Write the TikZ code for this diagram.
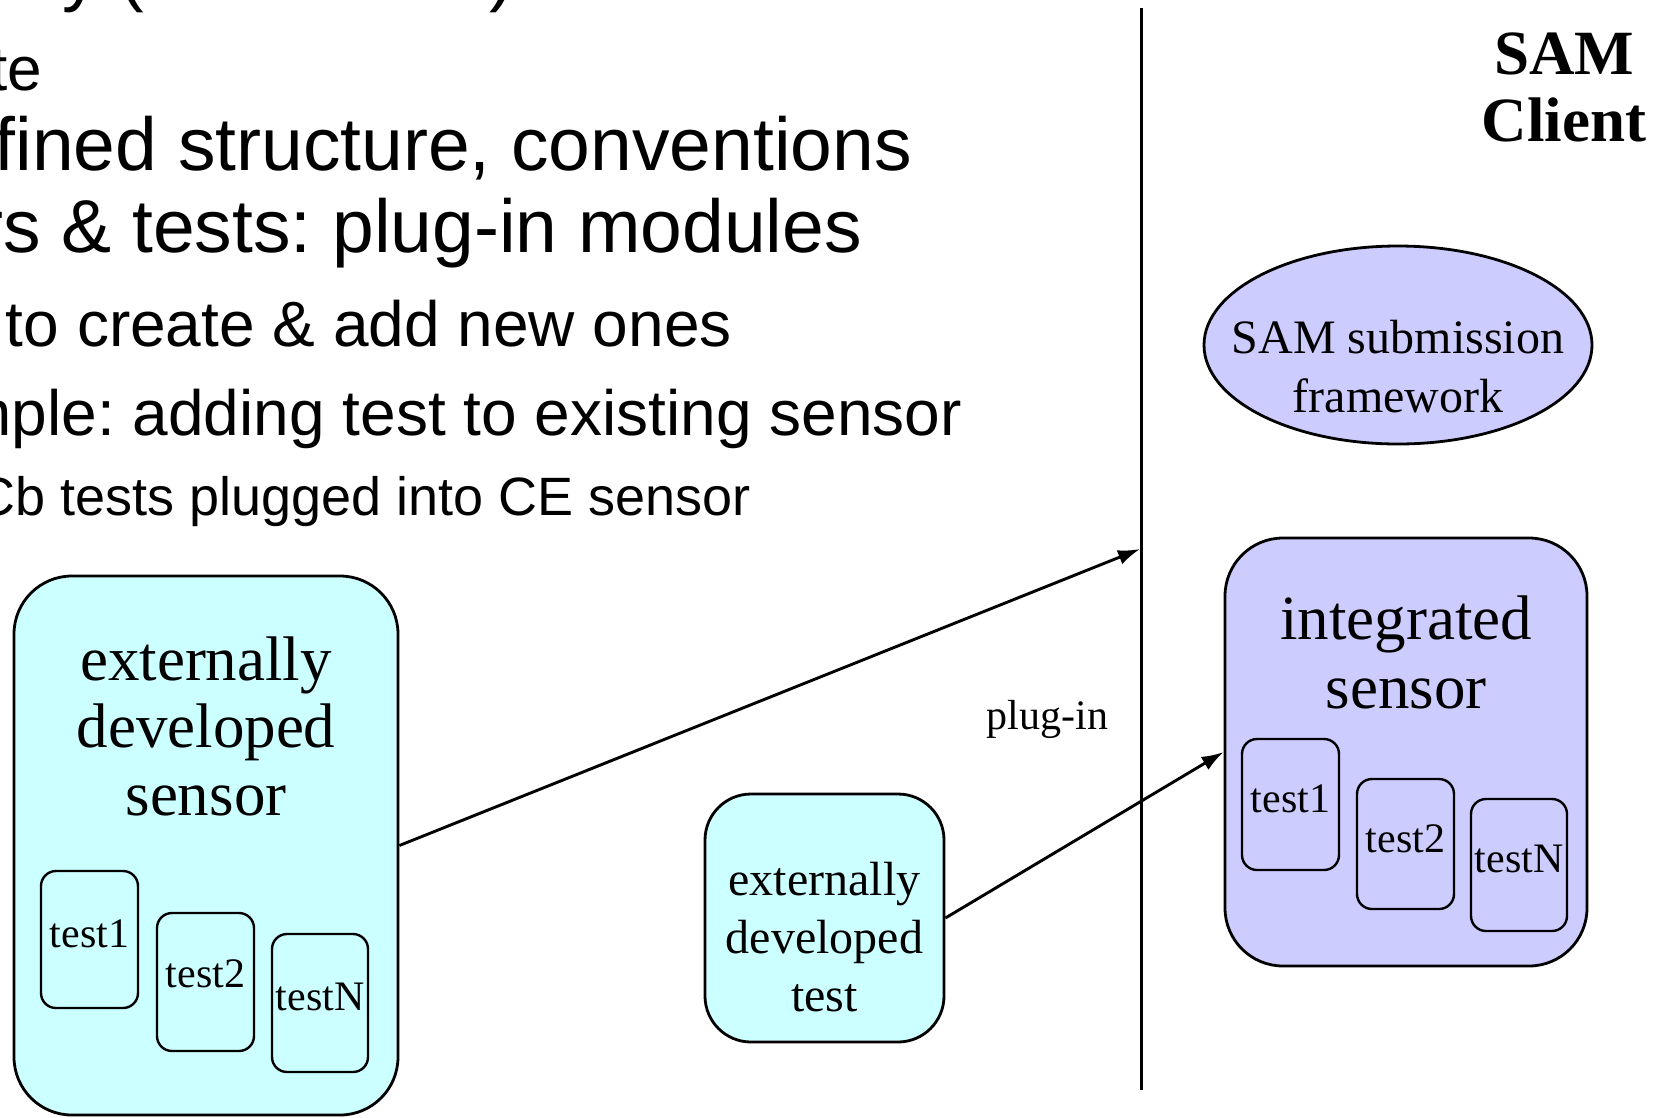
\documentclass[tikz,border=0pt]{standalone}
\usepackage{fontspec}
\setmainfont{Liberation Serif}
\newfontfamily\arialf{Liberation Sans}
\usetikzlibrary{arrows.meta,shapes.geometric}
\definecolor{cyanfill}{HTML}{CCFFFF}
\definecolor{lavfill}{HTML}{CCCCFF}
\frenchspacing
\tikzset{
  bigbox/.style={draw, line width=2.8pt, rounded corners=58pt, inner sep=0pt},
  midbox/.style={draw, line width=2.8pt, rounded corners=46pt, inner sep=0pt},
  testbox/.style={draw, line width=2.4pt, rounded corners=15pt, inner sep=0pt, minimum width=97pt},
  lbl/.style={inner sep=0pt, anchor=base},
  slide/.style={inner sep=0pt, anchor=base east, font=\arialf},
  arr/.style={line width=2.9pt, -{Latex[length=22pt,width=15pt]}},
}
\begin{document}
\begin{tikzpicture}[x=1pt,y=-1pt]
\useasboundingbox (0,0) rectangle (1664,1117);
\clip (0,0) rectangle (1664,1117);
\fill[white] (0,0) rectangle (1664,1117);

% slide text (cut off on the left)
\node[inner sep=0pt, anchor=base west, font=\arialf\fontsize{74}{80}\selectfont] (t0a) at (62,-3) {y (};
\node[inner sep=0pt, anchor=base west, font=\arialf\fontsize{74}{80}\selectfont] (t0b) at (489,-3) {)};
\node[slide, font=\arialf\fontsize{62}{70}\selectfont] (t1) at (42,90) {te};
\node[slide, font=\arialf\fontsize{75}{80}\selectfont] (t2) at (912,170) {fined structure, conventions};
\node[slide, font=\arialf\fontsize{75}{80}\selectfont] (t3) at (862,252) {rs \& tests: plug-in modules};
\node[slide, font=\arialf\fontsize{64}{70}\selectfont] (t4) at (732,346) {to create \& add new ones};
\node[slide, font=\arialf\fontsize{64}{70}\selectfont] (t5) at (962,435) {mple: adding test to existing sensor};
\node[slide, font=\arialf\fontsize{54}{60}\selectfont] (t6) at (751,515) {Cb tests plugged into CE sensor};

% divider
\coordinate (vtop) at (1141,8);
\coordinate (vbot) at (1141,1090);
\draw[line width=3pt] (vtop) -- (vbot);

% SAM Client title
\node[lbl, font=\bfseries\fontsize{63}{68}\selectfont] (sam) at (1564,74) {SAM};
\node[lbl, font=\bfseries\fontsize{63}{68}\selectfont] (client) at (1564,141) {Client};

% SAM submission framework
\node[ellipse, draw, line width=2.8pt, fill=lavfill, minimum width=388pt, minimum height=198pt, inner sep=0pt] (fw) at (1398,345) {};
\node[lbl, font=\fontsize{48}{56}\selectfont] (fw1) at (1398,353) {SAM submission};
\node[lbl, font=\fontsize{48}{56}\selectfont] (fw2) at (1398,412) {framework};

% externally developed sensor
\node[bigbox, fill=cyanfill, minimum width=384pt, minimum height=539pt] (lsens) at (206,845.5) {};
\node[lbl, font=\fontsize{63}{67}\selectfont] (ls1) at (206,680) {externally};
\node[lbl, font=\fontsize{63}{67}\selectfont] (ls2) at (206,747) {developed};
\node[lbl, font=\fontsize{63}{67}\selectfont] (ls3) at (206,815) {sensor};
\node[testbox, minimum height=137pt] (lt1) at (89.5,939.5) {};
\node[testbox, minimum height=138pt] (lt2) at (205.5,982) {};
\node[testbox, minimum width=96pt, minimum height=138pt] (ltN) at (320,1003) {};
\node[lbl, font=\fontsize{42}{48}\selectfont] at (lt1.center |- 0,947) {test1};
\node[lbl, font=\fontsize{42}{48}\selectfont] at (lt2.center |- 0,987) {test2};
\node[lbl, font=\fontsize{42}{48}\selectfont] at (ltN.center |- 0,1010) {testN};

% externally developed test
\node[midbox, fill=cyanfill, minimum width=239pt, minimum height=248pt] (etest) at (824.5,918) {};
\node[lbl, font=\fontsize{48}{56}\selectfont] (et1) at (824.5,895) {externally};
\node[lbl, font=\fontsize{48}{56}\selectfont] (et2) at (824.5,953) {developed};
\node[lbl, font=\fontsize{48}{56}\selectfont] (et3) at (824.5,1011) {test};

% integrated sensor
\node[bigbox, fill=lavfill, minimum width=362pt, minimum height=428pt] (isens) at (1406,752) {};
\node[lbl, font=\fontsize{63}{67}\selectfont] (is1) at (1406,639) {integrated};
\node[lbl, font=\fontsize{63}{67}\selectfont] (is2) at (1406,708) {sensor};
\node[testbox, minimum height=131pt] (it1) at (1290.5,804.5) {};
\node[testbox, minimum height=130pt] (it2) at (1405.5,844) {};
\node[testbox, minimum width=96pt, minimum height=132pt] (itN) at (1519,865) {};
\node[lbl, font=\fontsize{42}{48}\selectfont] at (it1.center |- 0,812) {test1};
\node[lbl, font=\fontsize{42}{48}\selectfont] at (it2.center |- 0,852) {test2};
\node[lbl, font=\fontsize{42}{48}\selectfont] at (itN.center |- 0,872) {testN};

% plug-in arrows
\coordinate (a1) at (1140,549);
\draw[arr] (lsens.east) -- (a1);
\draw[arr] (etest.east) -- (isens.west);
\node[lbl, font=\fontsize{42}{48}\selectfont] (plug) at (1047.5,729) {plug-in};
\end{tikzpicture}
\end{document}
